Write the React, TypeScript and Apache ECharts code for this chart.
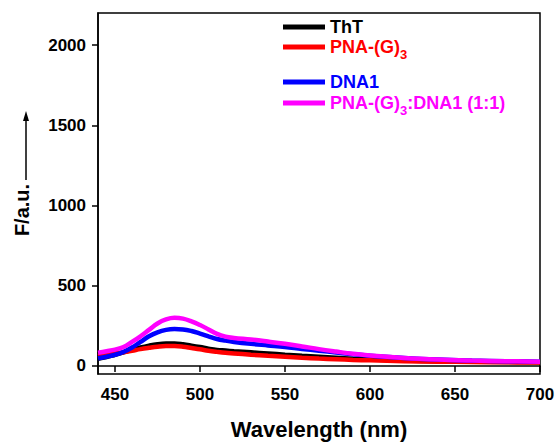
import React, { useEffect, useRef } from "react";
import * as echarts from "echarts";

const wavelengths = [440, 445, 450, 455, 460, 465, 470, 475, 480, 485, 490, 495, 500, 505, 510, 515, 520, 530, 540, 550, 560, 570, 580, 590, 600, 620, 640, 660, 680, 700];
const thtValues = [45, 55, 70, 85, 100, 115, 127, 136, 140, 140, 135, 127, 118, 108, 100, 96, 92, 85, 78, 70, 63, 57, 51, 45, 40, 34, 30, 27, 25, 24];
const pnaValues = [62, 70, 78, 86, 95, 105, 113, 120, 124, 124, 120, 112, 104, 95, 88, 82, 78, 70, 63, 57, 51, 46, 42, 38, 35, 30, 27, 25, 23, 21];
const dnaValues = [48, 58, 70, 88, 115, 150, 185, 210, 225, 230, 228, 218, 202, 185, 168, 158, 150, 138, 128, 118, 106, 95, 84, 73, 64, 50, 40, 34, 30, 27];
const complexValues = [83, 92, 102, 118, 150, 185, 225, 265, 290, 300, 295, 278, 255, 228, 200, 183, 175, 165, 152, 138, 122, 105, 90, 76, 65, 50, 40, 34, 30, 27];

const seriesNames = ["ThT", "PNA-(G)3", "DNA1", "PNA-(G)3:DNA1 (1:1)"];
const seriesColors = ["#000000", "#ff0000", "#0000ff", "#ff00ff"];
const seriesValues = [thtValues, pnaValues, dnaValues, complexValues];
const legendLabels = [
  "{a|ThT}",
  "{a|PNA-(G)}{s|3}",
  "{a|DNA1}",
  "{a|PNA-(G)}{s|3}{a|:DNA1 (1:1)}",
];
const legendTops = [18, 38, 73, 94];

const xTicks = [450, 500, 550, 600, 650, 700];
const yTicks = [0, 500, 1000, 1500, 2000];

const FONT = "Liberation Sans, Arial, sans-serif";

export default function App() {
  const ref = useRef<HTMLDivElement>(null);
  useEffect(() => {
    if (!ref.current) return;
    const chart = echarts.init(ref.current, null, { renderer: "svg" });
    const option: any = {
      animation: false,
      backgroundColor: "#ffffff",
      grid: {
        left: 98,
        right: 18,
        top: 13,
        bottom: 69,
        show: true,
        borderColor: "#000",
        borderWidth: 1.5,
        containLabel: false,
        outerBoundsMode: "none",
      },
      xAxis: {
        type: "value",
        min: 440,
        max: 700,
        name: "Wavelength (nm)",
        nameLocation: "middle",
        nameGap: 44,
        nameTextStyle: { fontFamily: FONT, fontWeight: "bold", fontSize: 22, color: "#000" },
        axisLine: { show: true, lineStyle: { color: "#000", width: 1.5 } },
        axisTick: { show: true, length: 6, lineStyle: { color: "#000", width: 1.5 }, customValues: xTicks },
        axisLabel: { fontFamily: FONT, fontWeight: "bold", fontSize: 17, color: "#000", margin: 12, customValues: xTicks, formatter: (v: number) => String(v) },
        splitLine: { show: false },
      },
      yAxis: {
        type: "value",
        min: -50,
        max: 2200,
        axisLine: { show: true, lineStyle: { color: "#000", width: 1.5 } },
        axisTick: { show: true, length: 6, lineStyle: { color: "#000", width: 1.5 }, customValues: yTicks },
        axisLabel: { fontFamily: FONT, fontWeight: "bold", fontSize: 17, color: "#000", margin: 12, customValues: yTicks, formatter: (v: number) => String(v) },
        splitLine: { show: false },
      },
      legend: seriesNames.map((name, i) => ({
        data: [name],
        left: 283,
        top: legendTops[i],
        padding: 0,
        icon: "rect",
        itemWidth: 42,
        itemHeight: 5,
        selectedMode: false,
        formatter: () => legendLabels[i],
        textStyle: {
          color: seriesColors[i],
          fontFamily: FONT,
          fontWeight: "bold",
          fontSize: 18,
          rich: {
            a: { color: seriesColors[i], fontFamily: FONT, fontWeight: "bold", fontSize: 18, lineHeight: 20 },
            s: { color: seriesColors[i], fontFamily: FONT, fontWeight: "bold", fontSize: 13, padding: [14, 0, 0, 0] },
          },
        },
      })),
      series: seriesNames.map((name, i) => ({
        name,
        type: "line",
        smooth: 0.4,
        showSymbol: false,
        symbol: "none",
        color: seriesColors[i],
        lineStyle: { color: seriesColors[i], width: 4.5 },
        data: wavelengths.map((w, j) => [w, seriesValues[i][j]]),
      })),
      graphic: [
        {
          type: "text",
          x: 22,
          y: 210,
          rotation: Math.PI / 2,
          style: {
            text: "F/a.u.",
            fontFamily: FONT,
            fontWeight: "bold",
            fontSize: 20,
            fill: "#000",
            textAlign: "center",
            textVerticalAlign: "middle",
          },
        },
        {
          type: "line",
          shape: { x1: 26, y1: 180, x2: 26, y2: 118 },
          style: { stroke: "#000", lineWidth: 1.5 },
        },
        {
          type: "polygon",
          shape: { points: [[26, 111], [23, 121], [29, 121]] },
          style: { fill: "#000" },
        },
      ],
    };
    chart.setOption(option);
    return () => chart.dispose();
  }, []);
  return (
    <div
      ref={ref}
      style={{ position: "fixed", left: 0, top: 0, width: 558, height: 443, background: "#fff" }}
    />
  );
}
